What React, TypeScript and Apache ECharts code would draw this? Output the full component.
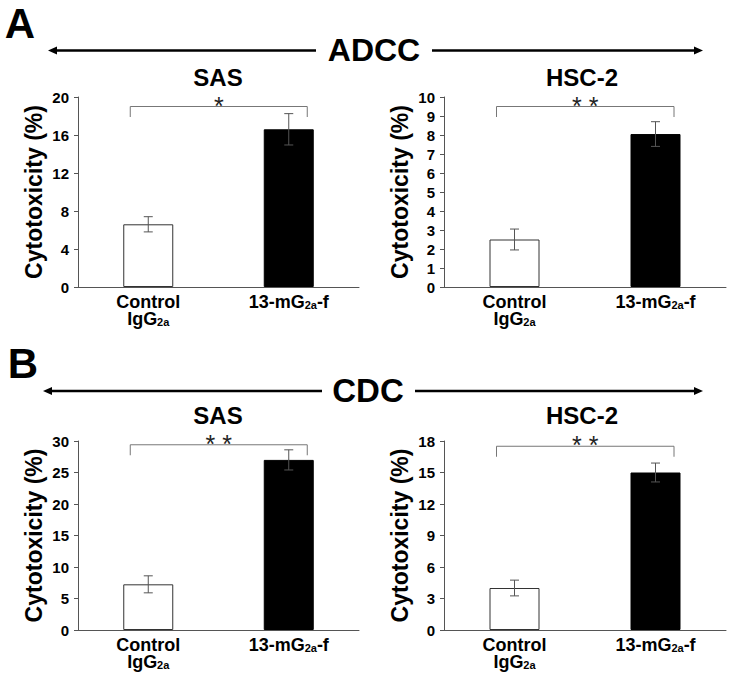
import React, { useEffect, useRef } from "react";
import * as echarts from "echarts";

// ---- data ----
const categories = ["Control IgG2a", "13-mG2a-f"];
const panelTitles = ["SAS", "HSC-2", "SAS", "HSC-2"];
const sectionTitles = ["ADCC", "CDC"];
const panelLetters = ["A", "B"];
const yAxisTitle = "Cytotoxicity (%)";

const adccSasMean = [6.6, 16.6];
const adccSasErr = [0.8, 1.65];
const adccHscMean = [2.5, 8.05];
const adccHscErr = [0.55, 0.65];
const cdcSasMean = [7.25, 27.0];
const cdcSasErr = [1.35, 1.6];
const cdcHscMean = [4.0, 15.0];
const cdcHscErr = [0.75, 0.9];

const yMax = [20, 10, 30, 18];
const yStep = [4, 1, 5, 3];
const significance = ["*", "* *", "* *", "* *"];
const bracketLevel = [19.0, 9.5, 29.4, 17.5];

const means = [adccSasMean, adccHscMean, cdcSasMean, cdcHscMean];
const errs = [adccSasErr, adccHscErr, cdcSasErr, cdcHscErr];

const FONT = "'Liberation Sans', Arial, Helvetica, sans-serif";

const grids = [
  { left: 78, top: 97, width: 281, height: 190 },
  { left: 444, top: 97, width: 282, height: 190 },
  { left: 78, top: 441, width: 281, height: 189 },
  { left: 444, top: 441, width: 282, height: 189 },
];

function arrowPair(xl: number, xr: number, gapL: number, gapR: number, y: number) {
  const head = 9;
  const hh = 4;
  const st = { stroke: "#000", lineWidth: 2.5 };
  return [
    { type: "line", shape: { x1: xl + head - 1, y1: y, x2: gapL, y2: y }, style: st },
    { type: "polygon", shape: { points: [[xl, y], [xl + head, y - hh], [xl + head, y + hh]] }, style: { fill: "#000" } },
    { type: "line", shape: { x1: gapR, y1: y, x2: xr - head + 1, y2: y }, style: st },
    { type: "polygon", shape: { points: [[xr, y], [xr - head, y - hh], [xr - head, y + hh]] }, style: { fill: "#000" } },
  ];
}

function xLabel(v: string) {
  if (v === categories[0]) return "{m|Control}\n{m|IgG}{s|2a}";
  return "{m|13-mG}{s|2a}{m|-f}";
}

export default function App() {
  const ref = useRef<HTMLDivElement>(null);
  useEffect(() => {
    if (!ref.current) return;
    const chart = echarts.init(ref.current, undefined, { renderer: "svg" });

    const xAxis: any[] = [];
    const yAxis: any[] = [];
    const series: any[] = [];

    for (let i = 0; i < 4; i++) {
      xAxis.push({
        type: "category",
        gridIndex: i,
        data: categories,
        axisLine: { show: true, lineStyle: { color: "#555", width: 1 } },
        axisTick: { show: false },
        axisLabel: {
          interval: 0,
          hideOverlap: false,
          margin: 6,
          formatter: xLabel,
          rich: {
            m: { fontSize: 18, fontWeight: "bold", fontFamily: FONT, color: "#000", lineHeight: 17 },
            s: { fontSize: 11, fontWeight: "bold", fontFamily: FONT, color: "#000", lineHeight: 8, verticalAlign: "bottom" },
          },
        },
      });
      yAxis.push({
        type: "value",
        gridIndex: i,
        min: 0,
        max: yMax[i],
        interval: yStep[i],
        name: yAxisTitle,
        nameLocation: "middle",
        nameGap: 33,
        nameTextStyle: { fontSize: 23, fontWeight: "bold", fontFamily: FONT, color: "#000" },
        axisLine: { show: true, lineStyle: { color: "#555", width: 1 } },
        axisTick: { show: true, length: 4, lineStyle: { color: "#555" } },
        splitLine: { show: false },
        axisLabel: { fontSize: 15, fontWeight: "bold", fontFamily: FONT, color: "#000", margin: 9 },
      });
      series.push({
        type: "bar",
        xAxisIndex: i,
        yAxisIndex: i,
        barWidth: 50,
        data: means[i].map((v, k) => ({
          value: v,
          itemStyle: k === 0
            ? { color: "#fff", borderColor: "#333", borderWidth: 1 }
            : { color: "#000", borderColor: "#000", borderWidth: 1 },
        })),
      });
      series.push({
        type: "custom",
        xAxisIndex: i,
        yAxisIndex: i,
        z: 5,
        data: means[i].map((v, k) => [k, v - errs[i][k], v + errs[i][k]]),
        renderItem: (params: any, api: any) => {
          const x = api.value(0);
          const lo = api.coord([x, api.value(1)]);
          const hi = api.coord([x, api.value(2)]);
          const w = 4.5;
          const st = { stroke: "#555", lineWidth: 1 };
          return {
            type: "group",
            children: [
              { type: "line", shape: { x1: lo[0], y1: lo[1], x2: hi[0], y2: hi[1] }, style: st },
              { type: "line", shape: { x1: lo[0] - w, y1: lo[1], x2: lo[0] + w, y2: lo[1] }, style: st },
              { type: "line", shape: { x1: hi[0] - w, y1: hi[1], x2: hi[0] + w, y2: hi[1] }, style: st },
            ],
          };
        },
      });
      const sig = significance[i];
      series.push({
        type: "custom",
        xAxisIndex: i,
        yAxisIndex: i,
        z: 5,
        data: [[0, bracketLevel[i]]],
        renderItem: (params: any, api: any) => {
          const a = api.coord([0, api.value(1)]);
          const b = api.coord([1, api.value(1)]);
          const lx = a[0] - 18;
          const rx = b[0] + 18.5;
          const y = a[1];
          return {
            type: "group",
            children: [
              {
                type: "polyline",
                shape: { points: [[lx, y + 10.5], [lx, y], [rx, y], [rx, y + 10.5]] },
                style: { stroke: "#777", lineWidth: 1, fill: null },
              },
              {
                type: "text",
                x: (lx + rx) / 2,
                y: y - 1,
                style: { text: sig, fontSize: 25, fontFamily: FONT, fill: "#222", align: "center", verticalAlign: "middle" },
              },
            ],
          };
        },
      });
    }

    const tStyle = (text: string, size: number) => ({
      text,
      fontSize: size,
      fontWeight: "bold",
      fontFamily: FONT,
      fill: "#000",
      align: "center",
      verticalAlign: "middle",
    });

    const graphic: any[] = [
      { type: "text", x: 20, y: 23, style: tStyle(panelLetters[0], 42) },
      { type: "text", x: 23, y: 363, style: tStyle(panelLetters[1], 42) },
      { type: "text", x: 374, y: 50, style: tStyle(sectionTitles[0], 32) },
      { type: "text", x: 368, y: 390, style: tStyle(sectionTitles[1], 33) },
      { type: "text", x: 218, y: 77, style: tStyle(panelTitles[0], 24) },
      { type: "text", x: 582, y: 77, style: tStyle(panelTitles[1], 24) },
      { type: "text", x: 218, y: 415, style: tStyle(panelTitles[2], 24) },
      { type: "text", x: 582, y: 415, style: tStyle(panelTitles[3], 24) },
      ...arrowPair(48, 703, 316, 432, 50.5),
      ...arrowPair(43, 703, 322, 415, 391),
    ];

    chart.setOption({
      animation: false,
      backgroundColor: "#fff",
      grid: grids.map((g) => ({ ...g, containLabel: false })),
      xAxis,
      yAxis,
      series,
      graphic,
    });
    return () => chart.dispose();
  }, []);
  return (
    <div
      ref={ref}
      style={{ position: "absolute", left: 0, top: 0, width: 731, height: 679, background: "#fff" }}
    />
  );
}
